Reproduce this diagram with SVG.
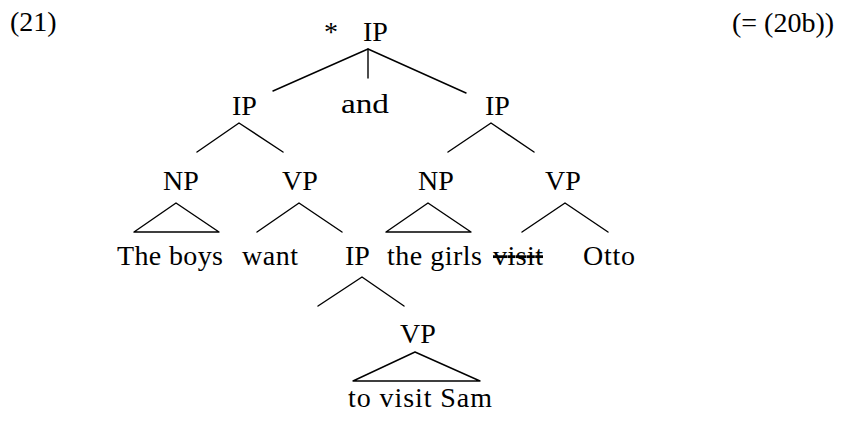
<svg xmlns="http://www.w3.org/2000/svg" width="841" height="424" viewBox="0 0 841 424">
<style>
text{font-family:"Liberation Serif","Times New Roman",serif;font-size:28px;fill:#000}
.e{stroke:#000;stroke-width:1.4;fill:none;stroke-linecap:round;stroke-linejoin:round}
</style>
<rect width="841" height="424" fill="#fff"/>
<text x="10" y="31">(21)</text>
<text x="732" y="32">(= (20b))</text>
<g id="connectors">
<polyline class="e" points="273,91 368,49 466,93"/>
<line class="e" x1="368" y1="49" x2="368" y2="78"/>
<polyline class="e" points="197,152 239,123 283,152"/>
<polyline class="e" points="448,152 491,123 534,152"/>
<polygon class="e" points="176,203 134,232 219,232"/>
<polyline class="e" points="257,232 299,203 342,232"/>
<polygon class="e" points="428,203 386,232 471,232"/>
<polyline class="e" points="522,232 565,203 608,232"/>
<polyline class="e" points="318,306 362,277 404,306"/>
<polygon class="e" points="415,352 353,381 480,381"/>
</g>
<g id="root"><text x="324" y="41">*</text><text x="363" y="41">IP</text></g>
<g id="ip-left"><text x="232" y="115">IP</text></g>
<g id="and"><text x="341" y="113" textLength="48" lengthAdjust="spacingAndGlyphs">and</text></g>
<g id="ip-right"><text x="485" y="115">IP</text></g>
<g id="np-left"><text x="163" y="190">NP</text></g>
<g id="vp-left"><text x="282" y="190">VP</text></g>
<g id="np-right"><text x="418" y="190">NP</text></g>
<g id="vp-right"><text x="545" y="190">VP</text></g>
<g id="the-boys"><text x="117" y="265" textLength="106">The boys</text></g>
<g id="want"><text x="242" y="265" textLength="56">want</text></g>
<g id="ip-low"><text x="345" y="265">IP</text></g>
<g id="the-girls"><text x="387" y="265" textLength="95">the girls</text></g>
<g id="visit"><text x="493" y="265" textLength="50" text-decoration="line-through">visit</text></g>
<g id="otto"><text x="583" y="265" textLength="52">Otto</text></g>
<g id="vp-low"><text x="400" y="343">VP</text></g>
<g id="to-visit-sam"><text x="348" y="407" textLength="144">to visit Sam</text></g>
</svg>
